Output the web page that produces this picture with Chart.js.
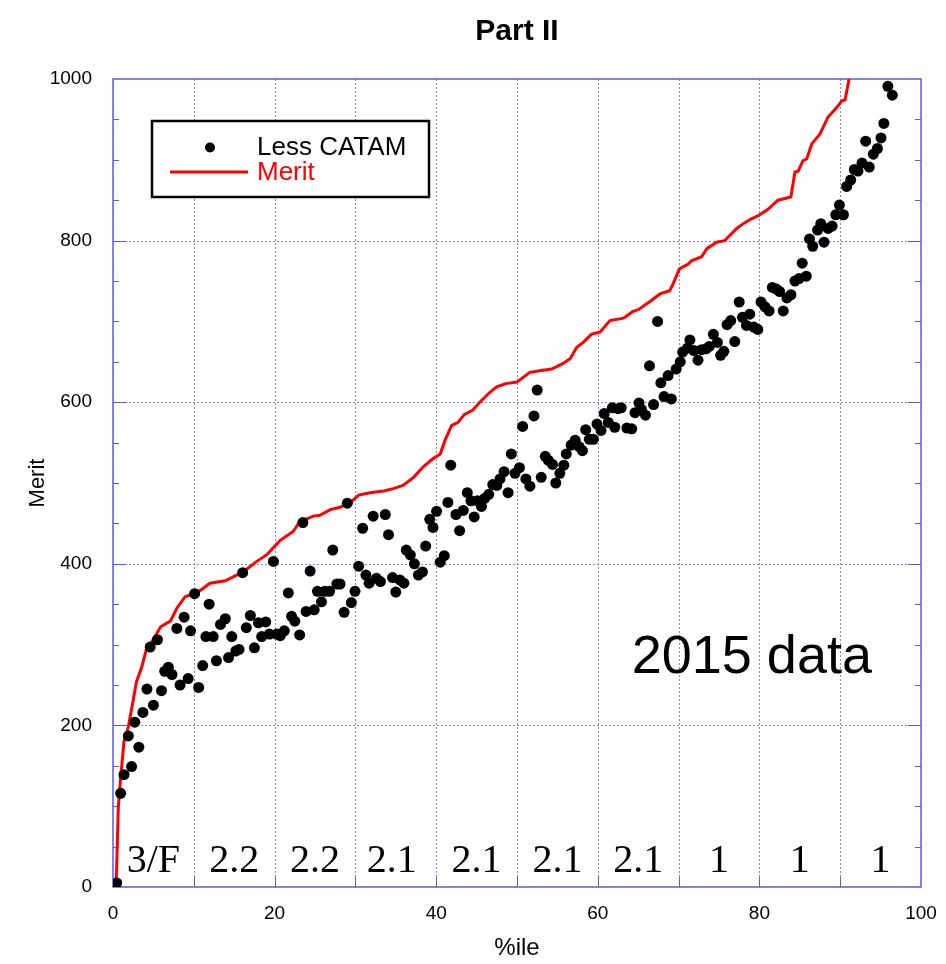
<!DOCTYPE html>
<html><head><meta charset="utf-8">
<script src="https://cdn.jsdelivr.net/npm/chart.js@4.4.0/dist/chart.umd.min.js"></script>
<style>html,body{margin:0;padding:0;background:#fff;overflow:hidden}#wrap{width:946px;height:964px;position:relative}</style>
</head><body><div id="wrap"><canvas id="c" width="946" height="964"></canvas></div>
<script>
const titleText = 'Part II';
const xAxisTitle = '%ile';
const yAxisTitle = 'Merit';
const seriesNames = ['Less CATAM', 'Merit'];
const annotationText = '2015 data';
const xTicks = [0, 20, 40, 60, 80, 100];
const yTicks = [0, 200, 400, 600, 800, 1000];
const gradeLabels = ['3/F', '2.2', '2.2', '2.1', '2.1', '2.1', '2.1', '1', '1', '1'];
const gradeX = [5, 15, 25, 34.5, 45, 55, 65, 75, 85, 95];

const lessX = [0.46,0.95,1.36,1.9,2.3,2.7,3.2,3.7,4.2,4.6,5.0,5.5,6.0,6.4,6.85,7.3,7.9,8.3,8.8,9.3,9.6,10.1,10.6,11.1,11.5,11.9,12.4,12.8,13.3,13.9,14.3,14.7,15.2,15.6,16.05,16.5,17.0,17.5,18.0,18.4,18.9,19.35,19.85,20.25,20.7,21.2,21.7,22.1,22.5,23.1,23.5,23.9,24.4,24.9,25.3,25.8,26.2,26.8,27.2,27.7,28.1,28.6,29.0,29.5,29.95,30.4,30.9,31.3,31.7,32.2,32.6,33.1,33.7,34.1,34.6,35.0,35.5,36.0,36.3,36.8,37.3,37.8,38.3,38.7,39.2,39.6,40.05,40.5,41.0,41.45,41.8,42.45,42.9,43.35,43.85,44.3,44.7,45.1,45.6,46.0,46.5,47.0,47.5,47.9,48.4,48.9,49.3,49.75,50.3,50.7,51.1,51.6,52.1,52.5,53.0,53.5,53.9,54.4,54.8,55.3,55.8,56.1,56.7,57.2,57.7,58.1,58.5,58.95,59.45,59.9,60.4,60.8,61.3,61.8,62.1,62.5,62.9,63.6,64.2,64.6,65.1,65.4,65.9,66.4,66.9,67.4,67.8,68.2,68.7,69.1,69.7,70.2,70.5,71.1,71.4,71.9,72.4,72.85,73.4,73.8,74.3,74.8,75.2,75.6,76.0,76.45,76.95,77.5,77.9,78.4,78.8,79.3,79.8,80.2,80.7,81.2,81.6,82.1,82.5,82.95,83.4,83.9,84.4,84.9,85.3,85.8,86.2,86.6,87.2,87.6,88.0,88.5,89.0,89.45,89.9,90.4,90.8,91.3,91.75,92.2,92.7,93.15,93.6,94.1,94.6,95.05,95.4,95.9,96.45];
const lessY = [5,116,139,187,149,204,173,216,245,297,225,306,243,267,272,263,320,250,334,258,317,363,247,274,310,350,310,280,325,332,284,310,292,294,389,321,336,296,327,310,328,313,403,313,311,317,364,335,329,312,451,341,391,343,366,353,366,366,417,375,375,340,475,352,366,397,444,386,376,459,382,378,461,436,383,365,380,376,417,411,400,386,390,422,455,445,465,402,410,476,522,461,441,466,488,478,458,478,471,481,486,498,497,505,514,488,536,512,519,570,505,496,583,615,507,533,528,523,500,512,522,536,547,553,545,540,566,554,554,573,565,586,575,593,569,592,593,568,567,587,599,591,584,645,597,700,624,607,633,604,641,650,662,667,677,664,652,665,666,669,684,674,658,663,696,701,675,724,705,695,709,693,690,724,718,713,742,740,737,713,729,733,750,753,772,756,802,793,813,821,798,815,818,832,844,832,867,875,888,886,896,923,891,907,914,927,945,991,980];

const meritX = [0.4,0.66,0.95,1.36,1.9,2.5,2.9,3.55,4.2,4.6,5.2,5.9,7.1,7.9,8.9,10.4,10.8,12.0,13.9,15.3,16.5,17.8,19.0,20.7,22.3,23.1,24.8,25.6,26.9,28.1,29.3,30.4,31.8,33.5,34.7,35.9,37.2,38.4,39.6,40.5,41.1,41.9,42.7,43.5,44.5,45.4,46.6,47.5,48.6,50.0,51.6,52.8,54.3,55.7,56.6,57.4,58.2,59.2,60.3,61.5,63.2,64.3,65.1,66.5,67.7,68.9,69.35,70.1,71.2,71.6,72.85,73.5,74.7,75.7,77.2,78.0,79.0,79.9,81.1,82.3,83.9,84.4,84.8,85.4,85.85,86.5,87.5,88.5,89.6,90.2,90.6,91.1,91.5];
const meritY = [5,99,136,180,198,231,254,272,297,300,310,322,329,345,359,365,367,376,379,386,393,403,411,429,440,452,459,460,467,470,475,485,488,490,493,497,507,520,530,536,553,571,575,585,590,600,612,619,623,625,637,639,641,648,654,668,674,684,687,701,704,712,715,725,734,738,747,765,771,775,780,790,798,800,815,821,827,831,839,850,854,885,886,899,901,920,932,953,965,973,974,1000,1040];

const SANS = '"Liberation Sans", Arial, Helvetica, sans-serif';
const SERIF = '"Liberation Serif", "Times New Roman", serif';
const gridColor = 'rgba(110,110,235,0.85)';
const axisColor = '#5a5ae0';

const decor = {
  id: 'decor',
  beforeDatasetsDraw(chart) {
    const {ctx, chartArea: a, scales: {x, y}} = chart;
    ctx.save();
    const line = (x1, y1, x2, y2) => { ctx.beginPath(); ctx.moveTo(x1, y1); ctx.lineTo(x2, y2); ctx.stroke(); };
    ctx.strokeStyle = gridColor; ctx.lineWidth = 1; ctx.setLineDash([2, 2]);
    for (let v = 10; v < 100; v += 10) { const p = Math.round(x.getPixelForValue(v)) + 0.5; line(p, a.top, p, a.bottom); }
    for (let v = 200; v < 1000; v += 200) { const p = Math.round(y.getPixelForValue(v)) + 0.5; line(a.left, p, a.right, p); }
    ctx.setLineDash([]);
    ctx.strokeStyle = axisColor; ctx.lineWidth = 1;
    for (let v = 50; v < 1000; v += 50) {
      const len = v % 200 === 0 ? 13 : 6;
      const p = Math.round(y.getPixelForValue(v)) + 0.5;
      line(a.left, p, a.left + len, p); line(a.right - len, p, a.right, p);
    }
    for (let v = 10; v < 100; v += 10) {
      const p = Math.round(x.getPixelForValue(v)) + 0.5;
      line(p, a.bottom, p, a.bottom - 10);
    }
    ctx.lineWidth = 1.5;
    ctx.strokeRect(a.left, a.top, a.width, a.height);
    ctx.restore();
  },
  afterDatasetsDraw(chart) {
    const {ctx, chartArea: a, scales: {x, y}} = chart;
    ctx.save();
    ctx.fillStyle = '#000'; ctx.font = '40px ' + SERIF; ctx.textAlign = 'center'; ctx.textBaseline = 'alphabetic';
    gradeLabels.forEach((t, i) => ctx.fillText(t, x.getPixelForValue(gradeX[i]), a.bottom - 15));
    ctx.font = '54px ' + SANS; ctx.textAlign = 'left';
    ctx.fillText(annotationText, x.getPixelForValue(64.2), y.getPixelForValue(265));
    ctx.fillStyle = '#fff'; ctx.fillRect(152, 121, 277, 76);
    ctx.strokeStyle = '#000'; ctx.lineWidth = 2.5; ctx.strokeRect(152, 121, 277, 76);
    ctx.fillStyle = '#000'; ctx.beginPath(); ctx.arc(210, 147.5, 5, 0, Math.PI * 2); ctx.fill();
    ctx.font = '26px ' + SANS; ctx.textAlign = 'left'; ctx.textBaseline = 'alphabetic';
    ctx.fillText(seriesNames[0], 257, 155);
    ctx.strokeStyle = '#ff0000'; ctx.lineWidth = 3; ctx.beginPath(); ctx.moveTo(170, 172); ctx.lineTo(248, 172); ctx.stroke();
    ctx.fillStyle = '#ff0000'; ctx.fillText(seriesNames[1], 257, 179.5);
    ctx.fillStyle = '#000'; ctx.textAlign = 'center';
    ctx.font = 'bold 30px ' + SANS; ctx.fillText(titleText, (a.left + a.right) / 2, 40);
    ctx.font = '24px ' + SANS; ctx.textBaseline = 'middle';
    ctx.fillText(xAxisTitle, (a.left + a.right) / 2, 948);
    ctx.translate(38, (a.top + a.bottom) / 2); ctx.rotate(-Math.PI / 2);
    ctx.font = '22px ' + SANS; ctx.fillText(yAxisTitle, 0, 0);
    ctx.restore();
  }
};

new Chart(document.getElementById('c'), {
  type: 'scatter',
  data: {
    datasets: [
      { label: seriesNames[0], data: lessX.map((v, i) => ({x: v, y: lessY[i]})),
        backgroundColor: '#000', borderColor: '#000', pointRadius: 5.5, pointHoverRadius: 5.5, borderWidth: 0, showLine: false, order: 0 },
      { label: seriesNames[1], data: meritX.map((v, i) => ({x: v, y: meritY[i]})),
        borderColor: '#ff0000', backgroundColor: '#ff0000', borderWidth: 3, pointRadius: 0, pointHoverRadius: 0, showLine: true, tension: 0, order: 1 }
    ]
  },
  options: {
    responsive: false, animation: false, devicePixelRatio: 1,
    layout: { padding: { left: 0, top: 79, right: 25, bottom: 0 } },
    plugins: { legend: { display: false }, tooltip: { enabled: false }, title: { display: false } },
    scales: {
      x: { type: 'linear', min: 0, max: 100,
        afterBuildTicks: s => { s.ticks = xTicks.map(v => ({value: v})); },
        afterFit: s => { s.height = 77; s.paddingLeft = 0; s.paddingRight = 0; },
        grid: { display: false, drawTicks: false }, border: { display: false },
        ticks: { color: '#000', font: { family: SANS, size: 19 }, padding: 15, maxRotation: 0, autoSkip: false, callback: v => String(v) } },
      y: { type: 'linear', min: 0, max: 1000,
        afterBuildTicks: s => { s.ticks = yTicks.map(v => ({value: v})); },
        afterFit: s => { s.width = 113; s.paddingTop = 0; s.paddingBottom = 0; },
        grid: { display: false, drawTicks: false }, border: { display: false },
        ticks: { color: '#000', font: { family: SANS, size: 19 }, padding: 21, autoSkip: false, callback: v => String(v) } }
    }
  },
  plugins: [decor]
});
</script></body></html>
